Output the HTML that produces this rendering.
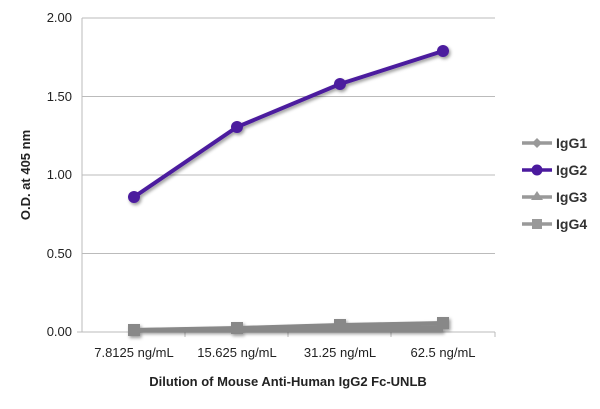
<!DOCTYPE html><html><head><style>body{margin:0;background:#fff}</style></head><body>
<svg width="600" height="404" xmlns="http://www.w3.org/2000/svg" font-family="Liberation Sans, sans-serif">
<defs><filter id="s" x="-20%" y="-20%" width="140%" height="160%"><feDropShadow dx="1.5" dy="2" stdDeviation="1.5" flood-opacity="0.4"/></filter></defs>
<g stroke="#bbb" stroke-width="1">
<line x1="82" y1="18" x2="495" y2="18"/><line x1="82" y1="96.5" x2="495" y2="96.5"/><line x1="82" y1="175" x2="495" y2="175"/><line x1="82" y1="253.5" x2="495" y2="253.5"/>
<line x1="82" y1="18" x2="82" y2="332"/><line x1="77" y1="332" x2="495" y2="332"/>
<line x1="185" y1="332" x2="185" y2="337"/><line x1="288" y1="332" x2="288" y2="337"/><line x1="391" y1="332" x2="391" y2="337"/><line x1="495" y1="332" x2="495" y2="337"/>
</g>
<g font-size="13" fill="#222" text-anchor="end">
<text x="72" y="22">2.00</text><text x="72" y="101">1.50</text><text x="72" y="179">1.00</text><text x="72" y="258">0.50</text><text x="72" y="336">0.00</text></g>
<g font-size="13" fill="#222" text-anchor="middle">
<text x="134" y="357">7.8125 ng/mL</text><text x="237" y="357">15.625 ng/mL</text><text x="340" y="357">31.25 ng/mL</text><text x="443" y="357">62.5 ng/mL</text></g>
<text x="288" y="386" font-size="13" font-weight="bold" text-anchor="middle" fill="#222">Dilution of Mouse Anti-Human IgG2 Fc-UNLB</text>
<text transform="translate(30,175) rotate(-90)" font-size="13" font-weight="bold" text-anchor="middle" fill="#222">O.D. at 405 nm</text>
<g filter="url(#s)">
<polyline points="134,330 237,329 340,328 443,327" fill="none" stroke="#888" stroke-width="4"/>
<polyline points="134,330 237,330 340,330 443,330" fill="none" stroke="#888" stroke-width="4"/>
<polyline points="134,330 237,328 340,325 443,323" fill="none" stroke="#888" stroke-width="4"/>
<g fill="#888"><rect x="128" y="324" width="12" height="12"/><rect x="231" y="322" width="12" height="12"/><rect x="334" y="319" width="12" height="12"/><rect x="437" y="317" width="12" height="12"/></g>
<polyline points="134,197 237,127 340,84 443,51" fill="none" stroke="#4b1a9e" stroke-width="4"/>
<g fill="#4b1a9e"><circle cx="134" cy="197" r="6"/><circle cx="237" cy="127" r="6"/><circle cx="340" cy="84" r="6"/><circle cx="443" cy="51" r="6"/></g>
</g>
<g stroke-width="3.5">
<line x1="522" y1="143" x2="552" y2="143" stroke="#999"/><line x1="522" y1="170" x2="552" y2="170" stroke="#4b1a9e"/><line x1="522" y1="197" x2="552" y2="197" stroke="#999"/><line x1="522" y1="224" x2="552" y2="224" stroke="#999"/></g>
<polygon points="537,138 542,143 537,148 532,143" fill="#999"/>
<circle cx="537" cy="170" r="5.5" fill="#4b1a9e"/>
<polygon points="537,191 543,200 531,200" fill="#999"/>
<rect x="532" y="219" width="10" height="10" fill="#999"/>
<g font-size="14" font-weight="bold" fill="#333">
<text x="556" y="148">IgG1</text><text x="556" y="175">IgG2</text><text x="556" y="202">IgG3</text><text x="556" y="229">IgG4</text></g>
</svg></body></html>
